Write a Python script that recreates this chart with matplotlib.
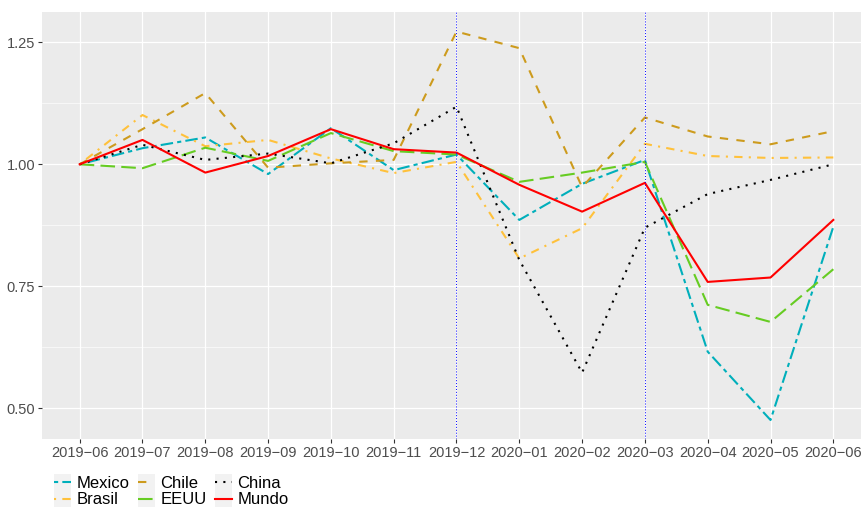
import matplotlib
matplotlib.use('agg')
import matplotlib.pyplot as plt
from matplotlib.patches import Rectangle

plt.rcParams['font.family'] = ['Liberation Sans', 'DejaVu Sans']

# monthly index, 2019-06 = 1
months = ["2019-06", "2019-07", "2019-08", "2019-09", "2019-10", "2019-11", "2019-12",
          "2020-01", "2020-02", "2020-03", "2020-04", "2020-05", "2020-06"]
mexico = [1.000, 1.033, 1.055, 0.980, 1.074, 0.988, 1.020, 0.886, 0.960, 1.009, 0.616, 0.476, 0.872]
brasil = [1.000, 1.101, 1.037, 1.050, 1.012, 0.982, 1.005, 0.807, 0.869, 1.042, 1.017, 1.013, 1.014]
chile  = [1.000, 1.072, 1.146, 0.993, 1.002, 1.009, 1.272, 1.238, 0.953, 1.096, 1.057, 1.041, 1.068]
eeuu   = [1.000, 0.992, 1.034, 1.007, 1.064, 1.027, 1.020, 0.964, 0.983, 1.005, 0.712, 0.677, 0.785]
china  = [1.000, 1.040, 1.009, 1.022, 1.002, 1.043, 1.118, 0.804, 0.573, 0.870, 0.939, 0.968, 1.000]
mundo  = [1.000, 1.050, 0.983, 1.017, 1.072, 1.031, 1.024, 0.958, 0.903, 0.962, 0.759, 0.768, 0.886]
vlines = ["2019-12", "2020-03"]
yticks = [0.50, 0.75, 1.00, 1.25]

fig = plt.figure(figsize=(8.62, 5.08), dpi=100)
W, H = 862, 508
ax = fig.add_axes([42 / W, 1 - 438.7 / H, (871 - 42) / W, (438.7 - 12) / H])
ax.set_facecolor('#EBEBEB')
for s in ax.spines.values():
    s.set_visible(False)

x = list(range(len(months)))
ax.set_xlim(-0.6, len(months) - 1 + 0.6)
ax.set_ylim(0.4377, 1.3121)

# grid
for yv in yticks:
    ax.axhline(yv, color='white', lw=0.9, zorder=0)
for yv in [0.625, 0.875, 1.125]:
    ax.axhline(yv, color='white', lw=0.45, zorder=0)
for xv in x:
    ax.axvline(xv, color='white', lw=0.9, zorder=0)

lw = 1.5
series = [
    ("Mexico", mexico, '#00AFBB', (0, (2, 2, 6, 2))),
    ("Brasil", brasil, '#FFC13B', (0, (1, 3, 4, 3))),
    ("Chile", chile, '#CD9B1D', (0, (4, 4))),
    ("EEUU", eeuu, '#66CC22', (0, (7, 3))),
    ("China", china, 'black', (0, (1, 3))),
    ("Mundo", mundo, '#FF0000', '-'),
]
for name, vals, col, ls in series:
    ax.plot(x, vals, color=col, linestyle=ls, lw=lw, label=name, zorder=3)

for v in vlines:
    ax.axvline(months.index(v), color='#0000FF', lw=0.7, linestyle=(0, (1, 2)), zorder=4)

ax.set_xticks(x)
ax.set_xticklabels([m.replace('-', '\u2212') for m in months])
ax.set_yticks(yticks)
ax.set_yticklabels(["%.2f" % v for v in yticks])
ax.tick_params(colors='#333333', labelcolor='#4D4D4D', labelsize=10.5, length=3, width=0.8, pad=2)

leg = fig.legend(loc='upper left', bbox_to_anchor=(54 / W, 1 - 476 / H), ncol=3, frameon=False,
                 fontsize=12, handlelength=1.0, handletextpad=0.35, columnspacing=0.5,
                 labelspacing=0.08, borderaxespad=0, borderpad=0)

# grey key backgrounds like ggplot
fig.canvas.draw()
for h in leg.legend_handles:
    bb = h.get_window_extent()
    cx, cy = (bb.x0 + bb.x1) / 2, (bb.y0 + bb.y1) / 2
    fig.patches.append(Rectangle((cx - 8.6, cy - 8.6), 17.2, 17.2, transform=None,
                                 facecolor='#F2F2F2', edgecolor='none', zorder=0))

fig.savefig('out.png', dpi=100)
